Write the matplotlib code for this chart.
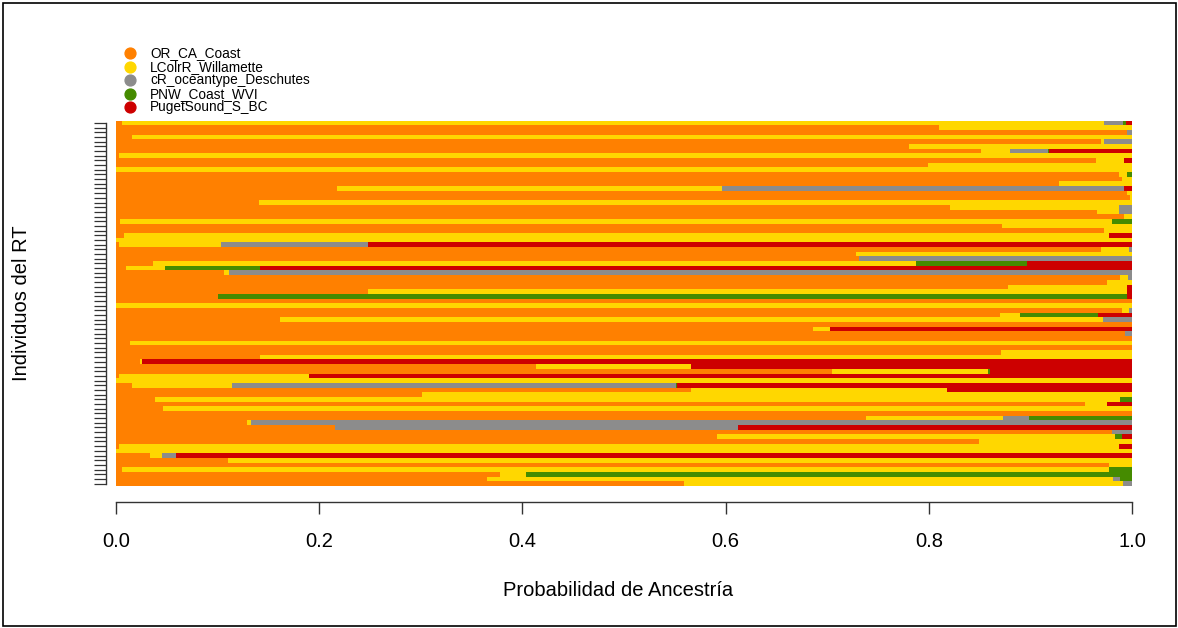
import numpy as np
import matplotlib.pyplot as plt
from matplotlib.lines import Line2D
from matplotlib.patches import Rectangle

plt.rcParams['font.family'] = ['Liberation Sans', 'DejaVu Sans']

populations = ["OR_CA_Coast", "LColrR_Willamette", "cR_oceantype_Deschutes",
               "PNW_Coast_WVI", "PugetSound_S_BC"]
colors = ["#FF8000", "#FFD700", "#8C8C8C", "#458B00", "#CD0000"]

# ancestry proportions per individual, first entry = top bar
or_ca_coast = [0.006, 0.810, 0.995, 0.016, 0.969, 0.781, 0.851, 0.003, 0.965, 0.799,
               0.000, 0.987, 0.990, 0.928, 0.2175, 0.995, 0.998, 0.141, 0.821, 0.966,
               0.992, 0.004, 0.872, 0.972, 0.008, 0.000, 0.003, 0.969, 0.728, 0.731,
               0.036, 0.010, 0.106, 0.988, 0.975, 0.878, 0.248, 0.100, 1.000, 0.000,
               0.990, 0.870, 0.161, 1.000, 0.686, 0.993, 1.000, 0.014, 1.000, 0.871,
               0.142, 0.024, 0.413, 0.705, 0.003, 0.000, 0.016, 0.566, 0.301, 0.038,
               0.954, 0.046, 1.000, 0.738, 0.129, 0.2155, 0.980, 0.592, 0.849, 0.003,
               0.000, 0.033, 0.110, 0.977, 0.006, 0.378, 0.365, 0.559]
lcolr_willamette = [0.966, 0.190, 0.000, 0.984, 0.003, 0.219, 0.029, 0.997, 0.027, 0.201,
                    1.000, 0.008, 0.010, 0.072, 0.3785, 0.005, 0.002, 0.859, 0.166, 0.021,
                    0.008, 0.976, 0.128, 0.028, 0.969, 1.000, 0.100, 0.028, 0.272, 0.000,
                    0.751, 0.038, 0.005, 0.008, 0.025, 0.117, 0.747, 0.000, 0.000, 1.000,
                    0.007, 0.020, 0.810, 0.000, 0.017, 0.000, 0.000, 0.986, 0.000, 0.129,
                    0.858, 0.002, 0.153, 0.153, 0.187, 1.000, 0.098, 0.252, 0.699, 0.950,
                    0.021, 0.954, 0.000, 0.135, 0.004, 0.000, 0.000, 0.391, 0.151, 0.984,
                    1.000, 0.012, 0.890, 0.023, 0.971, 0.026, 0.616, 0.432]
cr_oceantype = [0.019, 0.000, 0.005, 0.000, 0.028, 0.000, 0.037, 0.000, 0.000, 0.000,
                0.000, 0.000, 0.000, 0.000, 0.396, 0.000, 0.000, 0.000, 0.013, 0.013,
                0.000, 0.000, 0.000, 0.000, 0.000, 0.000, 0.145, 0.003, 0.000, 0.269,
                0.000, 0.000, 0.889, 0.004, 0.000, 0.000, 0.000, 0.000, 0.000, 0.000,
                0.003, 0.000, 0.029, 0.000, 0.000, 0.007, 0.000, 0.000, 0.000, 0.000,
                0.000, 0.000, 0.000, 0.000, 0.000, 0.000, 0.437, 0.000, 0.000, 0.000,
                0.000, 0.000, 0.000, 0.026, 0.867, 0.3965, 0.020, 0.000, 0.000, 0.000,
                0.000, 0.014, 0.000, 0.000, 0.000, 0.000, 0.007, 0.009]
pnw_coast = [0.003, 0.000, 0.000, 0.000, 0.000, 0.000, 0.001, 0.000, 0.000, 0.000,
             0.000, 0.005, 0.000, 0.000, 0.000, 0.000, 0.000, 0.000, 0.000, 0.000,
             0.000, 0.020, 0.000, 0.000, 0.000, 0.000, 0.000, 0.000, 0.000, 0.000,
             0.110, 0.094, 0.000, 0.000, 0.000, 0.000, 0.000, 0.895, 0.000, 0.000,
             0.000, 0.077, 0.000, 0.000, 0.000, 0.000, 0.000, 0.000, 0.000, 0.000,
             0.000, 0.000, 0.000, 0.002, 0.000, 0.000, 0.001, 0.000, 0.000, 0.012,
             0.000, 0.000, 0.000, 0.101, 0.000, 0.000, 0.000, 0.007, 0.000, 0.000,
             0.000, 0.000, 0.000, 0.000, 0.023, 0.596, 0.012, 0.000]
pugetsound = [0.006, 0.000, 0.000, 0.000, 0.000, 0.000, 0.082, 0.000, 0.008, 0.000,
              0.000, 0.000, 0.000, 0.000, 0.008, 0.000, 0.000, 0.000, 0.000, 0.000,
              0.000, 0.000, 0.000, 0.000, 0.023, 0.000, 0.752, 0.000, 0.000, 0.000,
              0.103, 0.858, 0.000, 0.000, 0.000, 0.005, 0.005, 0.005, 0.000, 0.000,
              0.000, 0.033, 0.000, 0.000, 0.297, 0.000, 0.000, 0.000, 0.000, 0.000,
              0.000, 0.974, 0.434, 0.140, 0.810, 0.000, 0.448, 0.182, 0.000, 0.000,
              0.025, 0.000, 0.000, 0.000, 0.000, 0.388, 0.000, 0.010, 0.000, 0.013,
              0.000, 0.941, 0.000, 0.000, 0.000, 0.000, 0.000, 0.000]

series = [or_ca_coast, lcolr_willamette, cr_oceantype, pnw_coast, pugetsound]

W, H = 1178, 628
fig = plt.figure(figsize=(W / 100, H / 100), dpi=100)
ax = fig.add_axes([116 / W, 1 - 486 / H, 1016 / W, 365.5 / H])

n = len(or_ca_coast)
ypos = np.arange(n, 0, -1)
left = np.zeros(n)
for vals, col in zip(series, colors):
    vals = np.array(vals)
    ax.barh(ypos, vals, left=left, height=1.0, color=col, linewidth=0)
    left += vals

ax.set_xlim(0, 1)
ax.set_ylim(0.5, n + 0.5)

for s in ["top", "right"]:
    ax.spines[s].set_visible(False)
ax.spines["bottom"].set_position(("outward", 11.5))
ax.spines["bottom"].set_bounds(0, 1)
ax.spines["left"].set_position(("outward", 7.5))
ax.spines["left"].set_bounds(1, n)
for s in ["bottom", "left"]:
    ax.spines[s].set_linewidth(1.0)
    ax.spines[s].set_color("#333333")

ax.set_xticks([0, 0.2, 0.4, 0.6, 0.8, 1.0])
ax.set_xticklabels(["0.0", "0.2", "0.4", "0.6", "0.8", "1.0"])
ax.tick_params(axis="x", length=8.5, width=1.0, pad=13, labelsize=14.5, color="#333333")
ax.set_yticks(ypos)
ax.set_yticklabels([])
ax.tick_params(axis="y", length=8.3, width=0.9, color="#333333")

fig.text(618 / W, 1 - 590 / H, "Probabilidad de Ancestría", ha="center", va="center", fontsize=14.5)
fig.text(22 / W, 1 - 303 / H, "Individuos del RT", ha="center", va="center",
         rotation=90, fontsize=14.5)

# legend in the upper left corner
for i, (name, col) in enumerate(zip(populations, colors)):
    y = 1 - (53 + 13.6 * i) / H
    fig.add_artist(Line2D([130 / W], [y], transform=fig.transFigure, marker="o",
                          markersize=7.8, color=col, linestyle="none"))
    fig.text(150 / W, y, name, ha="left", va="center", fontsize=9.8)

fig.add_artist(Rectangle((2.5 / W, 2.5 / H), 1 - 5 / W, 1 - 5 / H, transform=fig.transFigure,
                         fill=False, edgecolor="black", linewidth=1.2))

fig.savefig("out.png", dpi=100)
